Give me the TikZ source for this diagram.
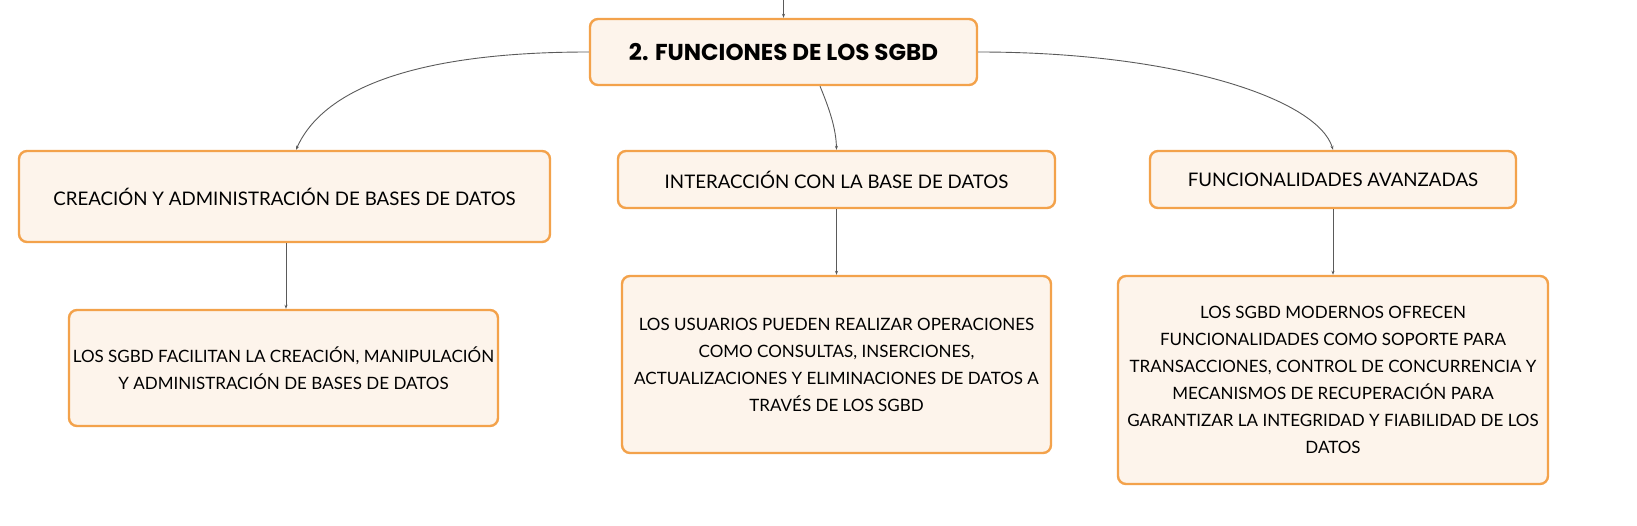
\documentclass[tikz,border=0pt]{standalone}
\usepackage{fontspec}
\setmainfont{Lato}
\newfontfamily\headfont{Poppins}
\usetikzlibrary{arrows.meta}
\definecolor{boxfill}{HTML}{FDF4EB}
\definecolor{boxline}{HTML}{F3A24B}
\definecolor{linkgray}{HTML}{5A5A5A}
\tikzset{
  card/.style={draw=boxline, fill=boxfill, line width=2.4pt, rounded corners=8pt,
    inner sep=0pt, align=center, font=\fontsize{17}{27}\selectfont},
  midcard/.style={card, font=\fontsize{18.7}{27}\selectfont},
  headcard/.style={card, font=\headfont\bfseries\fontsize{23}{26}\selectfont},
  link/.style={draw=linkgray, line width=0.9pt, -{Stealth[length=4pt,width=3pt]}}
}
\begin{document}
\begin{tikzpicture}[x=1pt,y=-1pt]
\useasboundingbox (0,0) rectangle (1637,526);
\node[headcard, minimum width=387pt, minimum height=66pt] (root) at (783.5,52) {2. FUNCIONES DE LOS SGBD};
\node[midcard, minimum width=531pt, minimum height=91pt] (crea) at (284.5,196.5) {CREACIÓN Y ADMINISTRACIÓN DE BASES DE DATOS};
\node[midcard, minimum width=437pt, minimum height=57pt] (inter) at (836.5,179.5) {INTERACCIÓN CON LA BASE DE DATOS};
\node[midcard, minimum width=366pt, minimum height=57pt] (func) at (1333,179.5) {FUNCIONALIDADES AVANZADAS};
\node[card, minimum width=429pt, minimum height=116pt] (creaD) at (283.5,368) {LOS SGBD FACILITAN LA CREACIÓN, MANIPULACIÓN\\Y ADMINISTRACIÓN DE BASES DE DATOS};
\node[card, minimum width=429pt, minimum height=177pt] (interD) at (836.5,364.5) {LOS USUARIOS PUEDEN REALIZAR OPERACIONES\\COMO CONSULTAS, INSERCIONES,\\ACTUALIZACIONES Y ELIMINACIONES DE DATOS A\\TRAVÉS DE LOS SGBD};
\node[card, minimum width=430pt, minimum height=208pt] (funcD) at (1333,380) {LOS SGBD MODERNOS OFRECEN\\FUNCIONALIDADES COMO SOPORTE PARA\\TRANSACCIONES, CONTROL DE CONCURRENCIA Y\\MECANISMOS DE RECUPERACIÓN PARA\\GARANTIZAR LA INTEGRIDAD Y FIABILIDAD DE LOS\\DATOS};
\coordinate (in) at (783.5,0);
\draw[link] (in) -- (root.north);
\draw[link] (root.west) .. controls (390,52) and (318,100) .. (crea.north -| 296,0);
\draw[link] (root.south -| 820,0) .. controls (829,108) and (836,128) .. (inter.north);
\draw[link] (root.east) .. controls (1180,52) and (1318,100) .. (func.north);
\draw[link] (crea.south -| 286,0) -- (creaD.north -| 286,0);
\draw[link] (inter.south) -- (interD.north);
\draw[link] (func.south) -- (funcD.north);
\end{tikzpicture}
\end{document}
